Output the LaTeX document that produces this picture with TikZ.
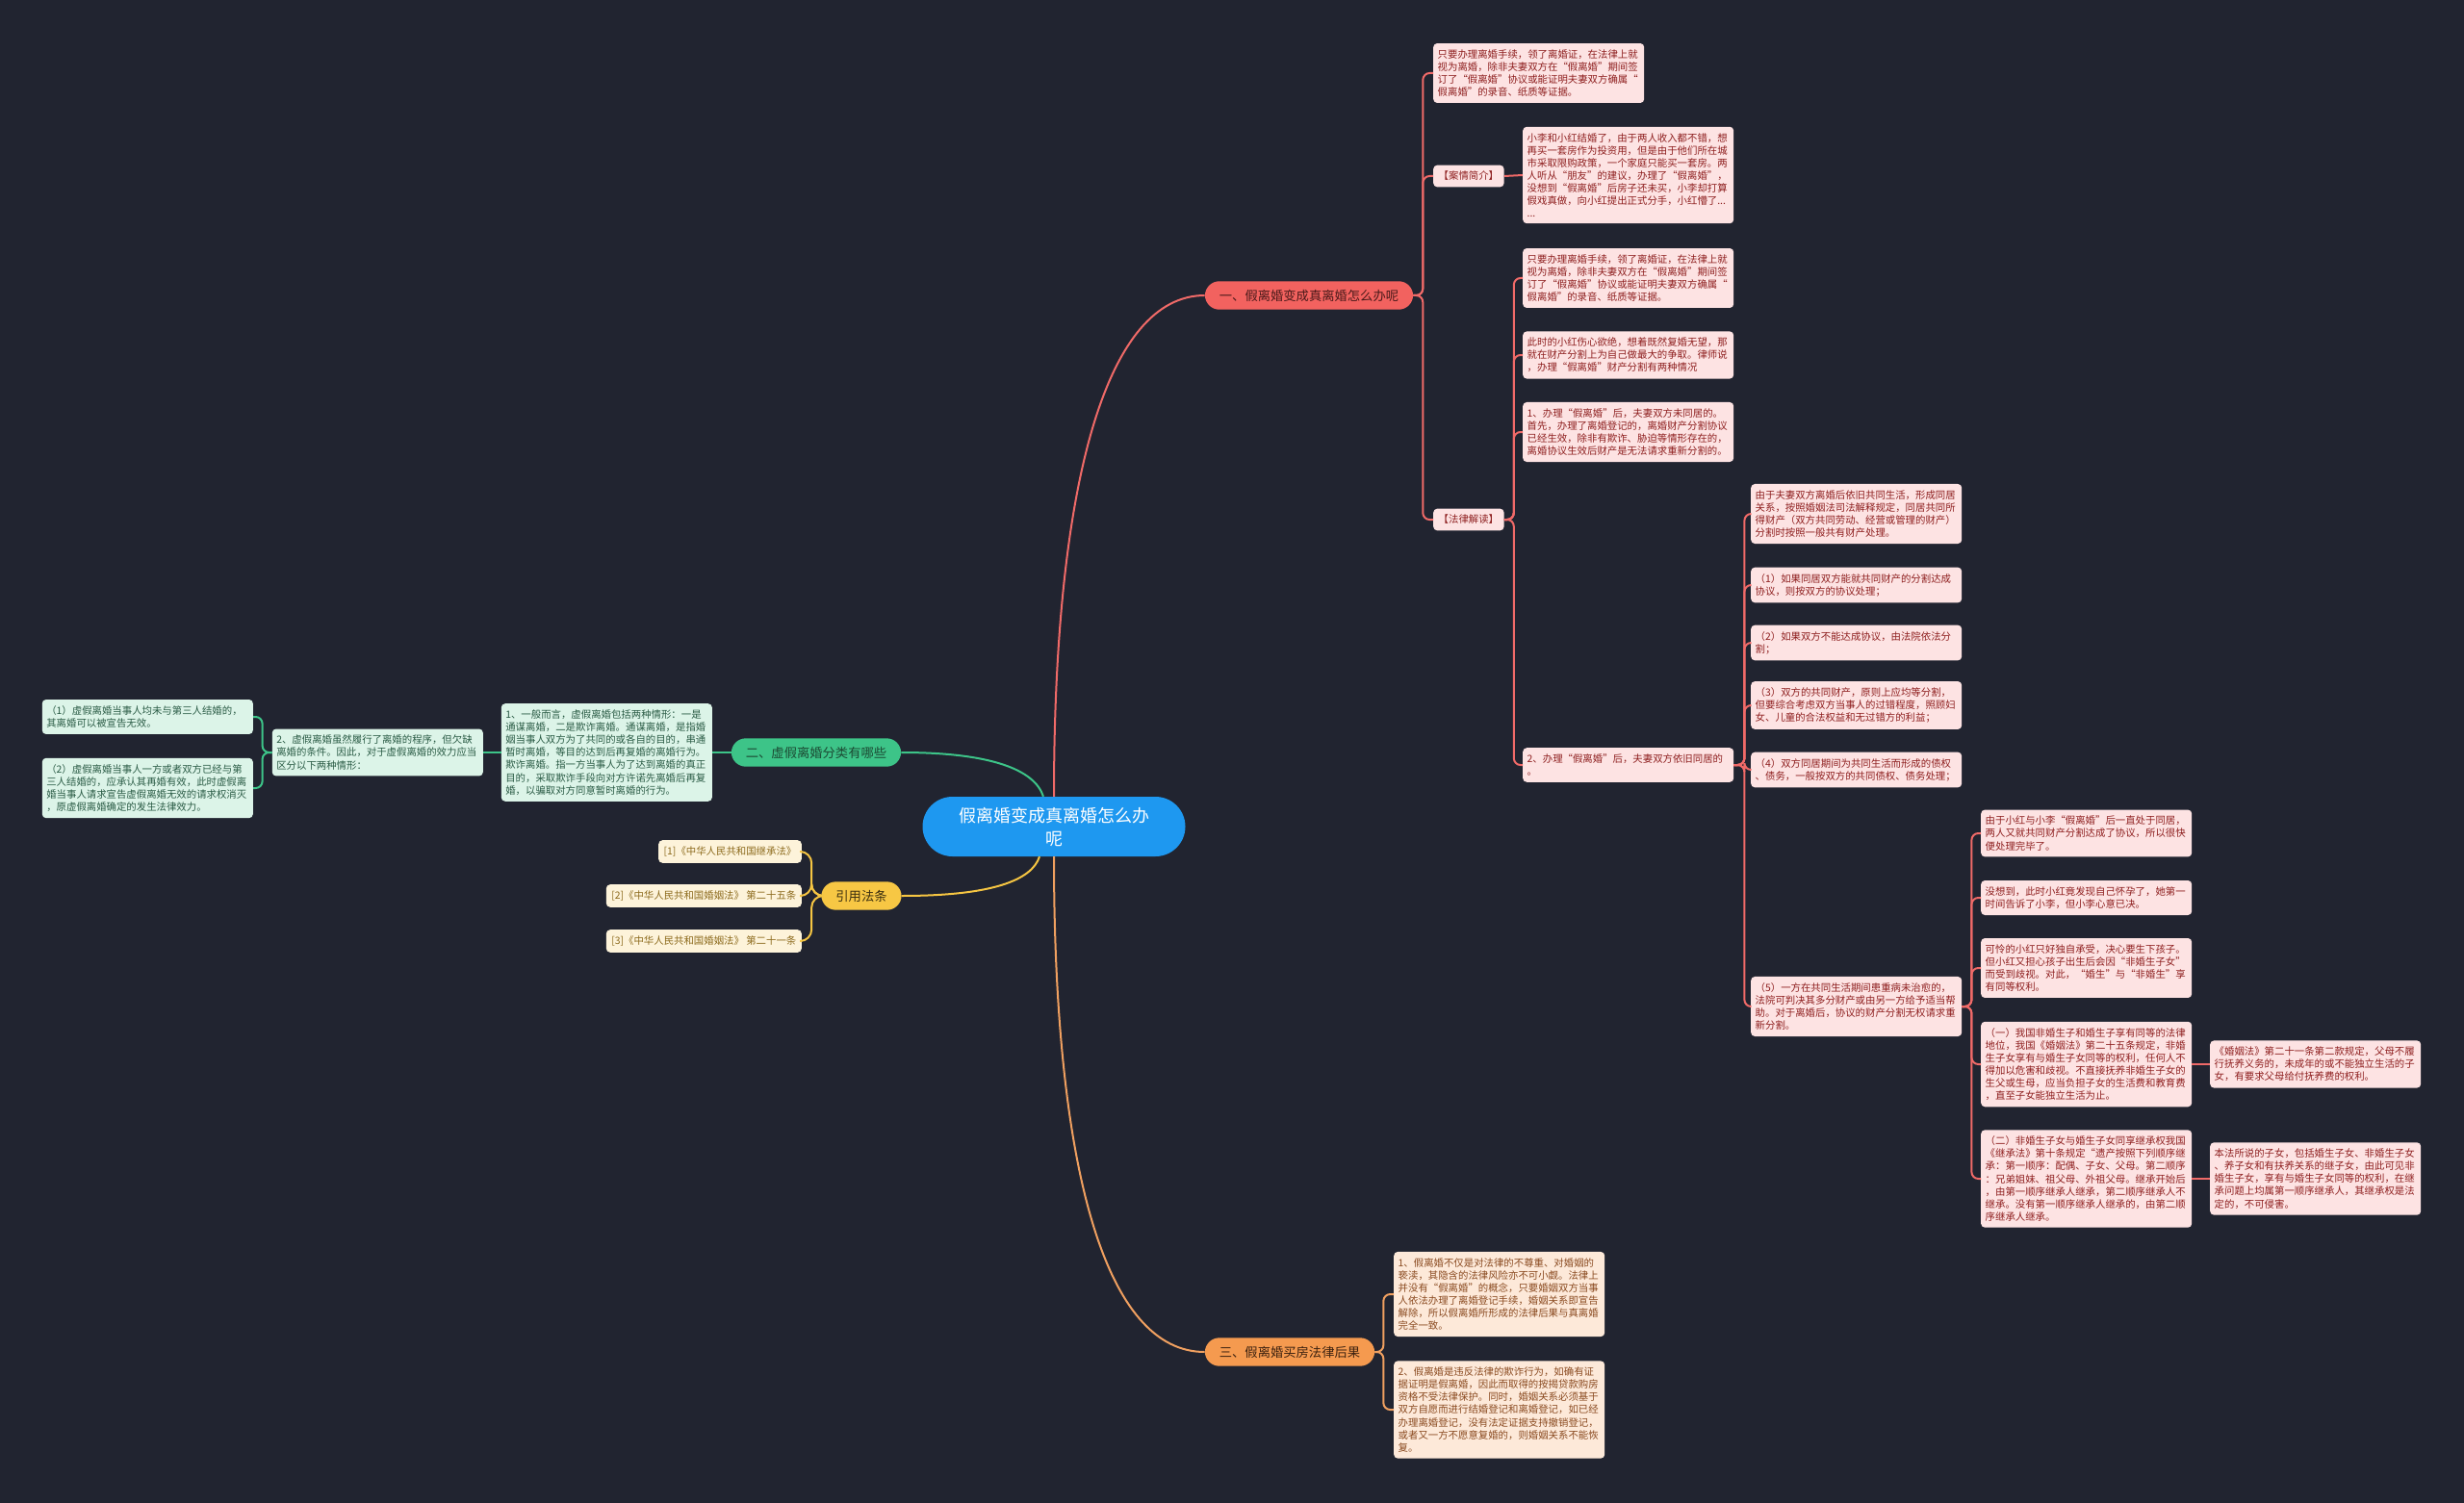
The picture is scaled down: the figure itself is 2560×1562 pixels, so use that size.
\documentclass[tikz,border=0pt]{standalone}
\usepackage{fontspec}
\setmainfont{Noto Sans CJK SC}
\definecolor{bg}{HTML}{212430}
\definecolor{rline}{HTML}{F06A68}
\definecolor{rbr}{HTML}{F2625F}
\definecolor{rbrt}{HTML}{4A1A1A}
\definecolor{rfill}{HTML}{FDE3E3}
\definecolor{rtext}{HTML}{8E1F1F}
\definecolor{gline}{HTML}{3DC488}
\definecolor{gbr}{HTML}{3DC488}
\definecolor{gbrt}{HTML}{1C4A33}
\definecolor{gfill}{HTML}{DCF4E8}
\definecolor{gtext}{HTML}{2A5B45}
\definecolor{yline}{HTML}{F5C542}
\definecolor{ybr}{HTML}{F7C744}
\definecolor{ybrt}{HTML}{3D3010}
\definecolor{yfill}{HTML}{FDF3DA}
\definecolor{ytext}{HTML}{8C6A1C}
\definecolor{oline}{HTML}{F0A060}
\definecolor{obr}{HTML}{F59A4F}
\definecolor{obrt}{HTML}{3D2210}
\definecolor{ofill}{HTML}{FDE9D9}
\definecolor{otext}{HTML}{8A4A20}
\definecolor{cblue}{HTML}{1E98F0}
\tikzset{
  box/.style={rounded corners=4pt, inner xsep=4.5pt, inner ysep=6.5pt, text width=210pt, align=left, font=\fontsize{10.4}{13.1}\selectfont},
  rbox/.style={box, fill=rfill, text=rtext},
  gbox/.style={box, fill=gfill, text=gtext},
  ybox/.style={rounded corners=4pt, inner xsep=5.5pt, inner ysep=6.5pt, font=\fontsize{10.4}{13.1}\selectfont, fill=yfill, text=ytext},
  obox/.style={box, fill=ofill, text=otext},
  tagbox/.style={rounded corners=4pt, inner xsep=5.5pt, inner ysep=6.5pt, font=\fontsize{10.4}{13.1}\selectfont, fill=rfill, text=rtext},
  brnode/.style={rounded corners=15pt, inner xsep=15pt, inner ysep=8.5pt, font=\fontsize{13.3}{16}\selectfont},
  conn/.style={line width=2pt, rounded corners=7pt},
  rl/.style={conn, draw=rline},
  gl/.style={conn, draw=gline},
  yl/.style={conn, draw=yline, rounded corners=12pt},
  ol/.style={conn, draw=oline},
}
\begin{document}
\begin{tikzpicture}[x=1pt,y=-1pt]
\fill[bg] (0,0) rectangle (2560,1562);
\useasboundingbox (0,0) rectangle (2560,1562);

% central
\node[fill=cblue, text=white, rounded corners=31pt, minimum width=273pt, minimum height=62pt, align=center, inner sep=0pt, font=\fontsize{18}{24}\selectfont] (c) at (1095,859) {假离婚变成真离婚怎么办\\呢};

% main branches
\node[brnode, fill=rbr, text=rbrt] (b1) at (1360,307) {一、假离婚变成真离婚怎么办呢};
\node[brnode, fill=gbr, text=gbrt] (g) at (848,782) {二、虚假离婚分类有哪些};
\node[brnode, fill=ybr, text=ybrt] (y) at (895,931) {引用法条};
\node[brnode, fill=obr, text=obrt] (o) at (1340,1405) {三、假离婚买房法律后果};

% red children
\node[rbox, anchor=west] (A1) at (1489,76) {只要办理离婚手续，领了离婚证，在法律上就\\视为离婚，除非夫妻双方在“假离婚”期间签\\订了“假离婚”协议或能证明夫妻双方确属“\\假离婚”的录音、纸质等证据。};
\node[tagbox, anchor=west] (cj) at (1489,183) {【案情简介】};
\node[rbox, anchor=west] (A2) at (1582,182) {小李和小红结婚了，由于两人收入都不错，想\\再买一套房作为投资用，但是由于他们所在城\\市采取限购政策，一个家庭只能买一套房。两\\人听从“朋友”的建议，办理了“假离婚”，\\没想到“假离婚”后房子还未买，小李却打算\\假戏真做，向小红提出正式分手，小红懵了...\\...};
\node[tagbox, anchor=west] (fl) at (1489,540) {【法律解读】};
\node[rbox, anchor=west] (L1) at (1582,289) {只要办理离婚手续，领了离婚证，在法律上就\\视为离婚，除非夫妻双方在“假离婚”期间签\\订了“假离婚”协议或能证明夫妻双方确属“\\假离婚”的录音、纸质等证据。};
\node[rbox, anchor=west] (L2) at (1582,369) {此时的小红伤心欲绝，想着既然复婚无望，那\\就在财产分割上为自己做最大的争取。律师说\\，办理“假离婚”财产分割有两种情况};
\node[rbox, anchor=west] (L3) at (1582,449) {1、办理“假离婚”后，夫妻双方未同居的。\\首先，办理了离婚登记的，离婚财产分割协议\\已经生效，除非有欺诈、胁迫等情形存在的，\\离婚协议生效后财产是无法请求重新分割的。};
\node[rbox, anchor=west] (L4) at (1582,795) {2、办理“假离婚”后，夫妻双方依旧同居的\\。};

\node[rbox, anchor=west] (M1) at (1819,534) {由于夫妻双方离婚后依旧共同生活，形成同居\\关系，按照婚姻法司法解释规定，同居共同所\\得财产（双方共同劳动、经营或管理的财产）\\分割时按照一般共有财产处理。};
\node[rbox, anchor=west] (M2) at (1819,608) {（1）如果同居双方能就共同财产的分割达成\\协议，则按双方的协议处理；};
\node[rbox, anchor=west] (M3) at (1819,668) {（2）如果双方不能达成协议，由法院依法分\\割；};
\node[rbox, anchor=west] (M4) at (1819,733) {（3）双方的共同财产，原则上应均等分割，\\但要综合考虑双方当事人的过错程度，照顾妇\\女、儿童的合法权益和无过错方的利益；};
\node[rbox, anchor=west] (M5) at (1819,800) {（4）双方同居期间为共同生活而形成的债权\\、债务，一般按双方的共同债权、债务处理；};
\node[rbox, anchor=west] (M6) at (1819,1046) {（5）一方在共同生活期间患重病未治愈的，\\法院可判决其多分财产或由另一方给予适当帮\\助。对于离婚后，协议的财产分割无权请求重\\新分割。};

\node[rbox, anchor=west] (N1) at (2058,866) {由于小红与小李“假离婚”后一直处于同居，\\两人又就共同财产分割达成了协议，所以很快\\便处理完毕了。};
\node[rbox, anchor=west] (N2) at (2058,933) {没想到，此时小红竟发现自己怀孕了，她第一\\时间告诉了小李，但小李心意已决。};
\node[rbox, anchor=west] (N3) at (2058,1006) {可怜的小红只好独自承受，决心要生下孩子。\\但小红又担心孩子出生后会因“非婚生子女”\\而受到歧视。对此，“婚生”与“非婚生”享\\有同等权利。};
\node[rbox, anchor=west] (N4) at (2058,1106) {（一）我国非婚生子和婚生子享有同等的法律\\地位，我国《婚姻法》第二十五条规定，非婚\\生子女享有与婚生子女同等的权利，任何人不\\得加以危害和歧视。不直接抚养非婚生子女的\\生父或生母，应当负担子女的生活费和教育费\\，直至子女能独立生活为止。};
\node[rbox, anchor=west] (N5) at (2058,1225) {（二）非婚生子女与婚生子女同享继承权我国\\《继承法》第十条规定“遗产按照下列顺序继\\承：第一顺序：配偶、子女、父母。第二顺序\\：兄弟姐妹、祖父母、外祖父母。继承开始后\\，由第一顺序继承人继承，第二顺序继承人不\\继承。没有第一顺序继承人继承的，由第二顺\\序继承人继承。};
\node[rbox, anchor=west] (O1) at (2296,1106) {《婚姻法》第二十一条第二款规定，父母不履\\行抚养义务的，未成年的或不能独立生活的子\\女，有要求父母给付抚养费的权利。};
\node[rbox, anchor=west] (O2) at (2296,1225) {本法所说的子女，包括婚生子女、非婚生子女\\、养子女和有扶养关系的继子女，由此可见非\\婚生子女，享有与婚生子女同等的权利，在继\\承问题上均属第一顺序继承人，其继承权是法\\定的，不可侵害。};

% green children
\node[gbox, anchor=east] (G1) at (740,782) {1、一般而言，虚假离婚包括两种情形：一是\\通谋离婚，二是欺诈离婚。通谋离婚，是指婚\\姻当事人双方为了共同的或各自的目的，串通\\暂时离婚，等目的达到后再复婚的离婚行为。\\欺诈离婚。指一方当事人为了达到离婚的真正\\目的，采取欺诈手段向对方许诺先离婚后再复\\婚，以骗取对方同意暂时离婚的行为。};
\node[gbox, anchor=east] (G2) at (502,782) {2、虚假离婚虽然履行了离婚的程序，但欠缺\\离婚的条件。因此，对于虚假离婚的效力应当\\区分以下两种情形：};
\node[gbox, anchor=east] (G3) at (263,745) {（1）虚假离婚当事人均未与第三人结婚的，\\其离婚可以被宣告无效。};
\node[gbox, anchor=east] (G4) at (263,819) {（2）虚假离婚当事人一方或者双方已经与第\\三人结婚的，应承认其再婚有效，此时虚假离\\婚当事人请求宣告虚假离婚无效的请求权消灭\\，原虚假离婚确定的发生法律效力。};

% yellow children
\node[ybox, anchor=east] (Y1) at (833,885) {[1]《中华人民共和国继承法》};
\node[ybox, anchor=east] (Y2) at (833,931) {[2]《中华人民共和国婚姻法》 第二十五条};
\node[ybox, anchor=east] (Y3) at (833,978) {[3]《中华人民共和国婚姻法》 第二十一条};

% orange children
\node[obox, anchor=west] (R1) at (1448,1345) {1、假离婚不仅是对法律的不尊重、对婚姻的\\亵渎，其隐含的法律风险亦不可小觑。法律上\\并没有“假离婚”的概念，只要婚姻双方当事\\人依法办理了离婚登记手续，婚姻关系即宣告\\解除，所以假离婚所形成的法律后果与真离婚\\完全一致。};
\node[obox, anchor=west] (R2) at (1448,1465) {2、假离婚是违反法律的欺诈行为，如确有证\\据证明是假离婚，因此而取得的按揭贷款购房\\资格不受法律保护。同时，婚姻关系必须基于\\双方自愿而进行结婚登记和离婚登记，如已经\\办理离婚登记，没有法定证据支持撤销登记，\\或者又一方不愿意复婚的，则婚姻关系不能恢\\复。};

% main curves
\draw[line width=2pt, rline] (c.north) .. controls (1095,500) and (1150,307) .. (b1.west);
\draw[line width=2pt, oline] (c.south) .. controls (1095,1220) and (1150,1405) .. (o.west);
\draw[line width=2pt, gline] (g.east) .. controls (1030,782) and (1075,800) .. ([xshift=-11pt]c.north);
\draw[line width=2pt, yline] (y.east) .. controls (1030,931) and (1072,915) .. ([xshift=-15pt]c.south);

% red connectors
\draw[rl] (b1.east) -- ++(10,0) |- (A1.west);
\draw[rl] (b1.east) -- ++(10,0) |- (cj.west);
\draw[rl] (b1.east) -- ++(10,0) |- (fl.west);
\draw[rl] (cj.east) -- (A2.west);
\foreach \n in {L1,L2,L3,L4} \draw[rl] (fl.east) -- ++(10,0) |- (\n.west);
\foreach \n in {M1,M2,M3,M4,M5,M6} \draw[rl] (L4.east) -- ++(11,0) |- (\n.west);
\foreach \n in {N1,N2,N3,N4,N5} \draw[rl] (M6.east) -- ++(10,0) |- (\n.west);
\draw[rl] (N4.east) -- (O1.west);
\draw[rl] (N5.east) -- (O2.west);

% green connectors
\draw[gl] (g.west) -- (G1.east);
\draw[gl] (G1.west) -- (G2.east);
\draw[gl] (G2.west) -- ++(-10,0) |- (G3.east);
\draw[gl] (G2.west) -- ++(-10,0) |- (G4.east);

% yellow connectors
\foreach \n in {Y1,Y2,Y3} \draw[yl] (y.west) -- ++(-10,0) |- (\n.east);

% orange connectors
\draw[ol] (o.east) -- ++(9,0) |- (R1.west);
\draw[ol] (o.east) -- ++(9,0) |- (R2.west);
\end{tikzpicture}
\end{document}
